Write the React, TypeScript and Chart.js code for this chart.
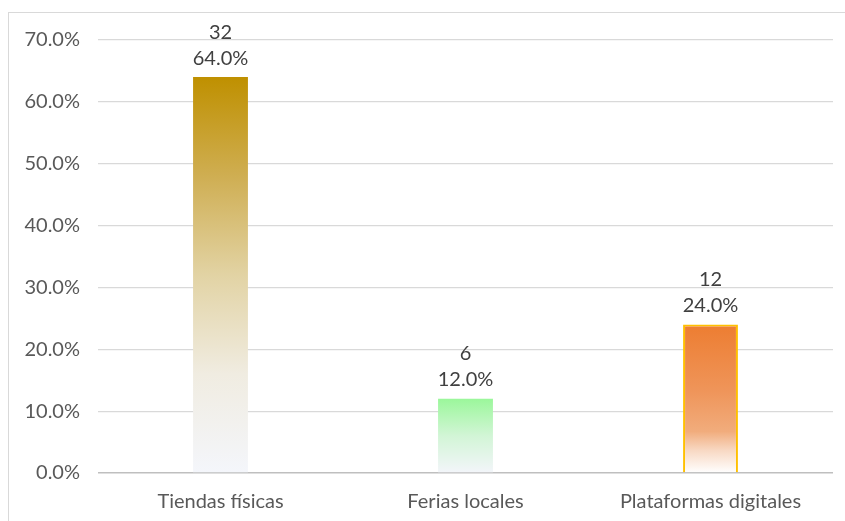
import React, { useEffect, useRef } from "react";
import { Chart, registerables } from "chart.js";

Chart.register(...registerables);

const categories = ["Tiendas físicas", "Ferias locales", "Plataformas digitales"];
const counts = [32, 6, 12];
const percents = [64.0, 12.0, 24.0];
const yTicksMax = 70;
const yTickStep = 10;

const FONT = "Lato, 'Open Sans', sans-serif";

const gradientStops: [number, string][][] = [
  [
    [0, "#BF9000"],
    [0.25, "#CFAE52"],
    [0.5, "#E2D3A4"],
    [0.75, "#F0ECE1"],
    [1, "#F4F6FB"],
  ],
  [
    [0, "#9BF79B"],
    [0.5, "#D2F5D6"],
    [1, "#F3F5FA"],
  ],
  [
    [0, "#ED7D31"],
    [0.45, "#EF955A"],
    [0.72, "#F1AC7C"],
    [0.85, "#F8D9C4"],
    [1, "#FFFFFF"],
  ],
];

const borderColors = ["rgba(0,0,0,0)", "rgba(0,0,0,0)", "#FFC000"];
const borderWidths = [0, 0, 2];

const labelPlugin = {
  id: "twoLineLabels",
  afterDatasetsDraw(chart: any) {
    const { ctx } = chart;
    const meta = chart.getDatasetMeta(0);
    ctx.save();
    ctx.font = `20px ${FONT}`;
    ctx.fillStyle = "#404040";
    ctx.textAlign = "center";
    ctx.textBaseline = "middle";
    meta.data.forEach((bar: any, i: number) => {
      const x = bar.x;
      const y = bar.y;
      ctx.fillText(`${percents[i].toFixed(1)}%`, x, y - 19);
      ctx.fillText(String(counts[i]), x, y - 45);
    });
    ctx.restore();
  },
};

export default function App() {
  const canvasRef = useRef<HTMLCanvasElement | null>(null);

  useEffect(() => {
    if (!canvasRef.current) return;
    const chart = new Chart(canvasRef.current, {
      type: "bar",
      data: {
        labels: categories,
        datasets: [
          {
            data: percents,
            backgroundColor: (context: any) => {
              const chart = context.chart;
              const yScale = chart.scales?.y;
              const i = context.dataIndex;
              if (!yScale || i === undefined) return gradientStops[0][0][1];
              const top = yScale.getPixelForValue(percents[i]);
              const base = yScale.getPixelForValue(0);
              if (!isFinite(top) || !isFinite(base)) return gradientStops[i][0][1];
              const g = chart.ctx.createLinearGradient(0, top, 0, base);
              gradientStops[i].forEach(([o, c]) => g.addColorStop(o, c));
              return g;
            },
            borderColor: borderColors,
            borderWidth: borderWidths,
            categoryPercentage: 1,
            barPercentage: 0.224,
          },
        ],
      },
      options: {
        animation: false,
        responsive: true,
        maintainAspectRatio: false,
        layout: { padding: { left: 8, right: 12, top: 40, bottom: 0 } },
        plugins: { legend: { display: false }, tooltip: { enabled: false } },
        scales: {
          x: {
            grid: { display: false, drawTicks: false },
            border: { display: false },
            ticks: { font: { family: FONT, size: 20 }, color: "#595959", padding: 17 },
            afterFit: (axis: any) => {
              axis.height = 48;
            },
          },
          y: {
            min: 0,
            max: yTicksMax,
            ticks: {
              stepSize: yTickStep,
              font: { family: FONT, size: 20 },
              color: "#595959",
              padding: 18,
              callback: (v: any) => `${Number(v).toFixed(1)}%`,
            },
            grid: {
              drawTicks: false,
              color: (c: any) => (c.tick && c.tick.value === 0 ? "#BFBFBF" : "#D9D9D9"),
              lineWidth: (c: any) => (c.tick && c.tick.value === 0 ? 1.5 : 1.2),
            },
            border: { display: false },
            afterFit: (axis: any) => {
              axis.width = 90;
            },
          },
        },
      },
      plugins: [labelPlugin],
    });
    return () => chart.destroy();
  }, []);

  return (
    <div style={{ position: "fixed", left: 0, top: 0, width: 845, height: 521, background: "#fff" }}>
      <div
        style={{
          position: "absolute",
          left: 8,
          top: 12,
          width: 837,
          height: 509,
          borderLeft: "1.5px solid #D9D9D9",
          borderTop: "1.5px solid #D9D9D9",
          boxSizing: "border-box",
        }}
      />
      <div style={{ position: "absolute", left: 0, top: 0, width: 845, height: 521 }}>
        <canvas ref={canvasRef} />
      </div>
    </div>
  );
}
